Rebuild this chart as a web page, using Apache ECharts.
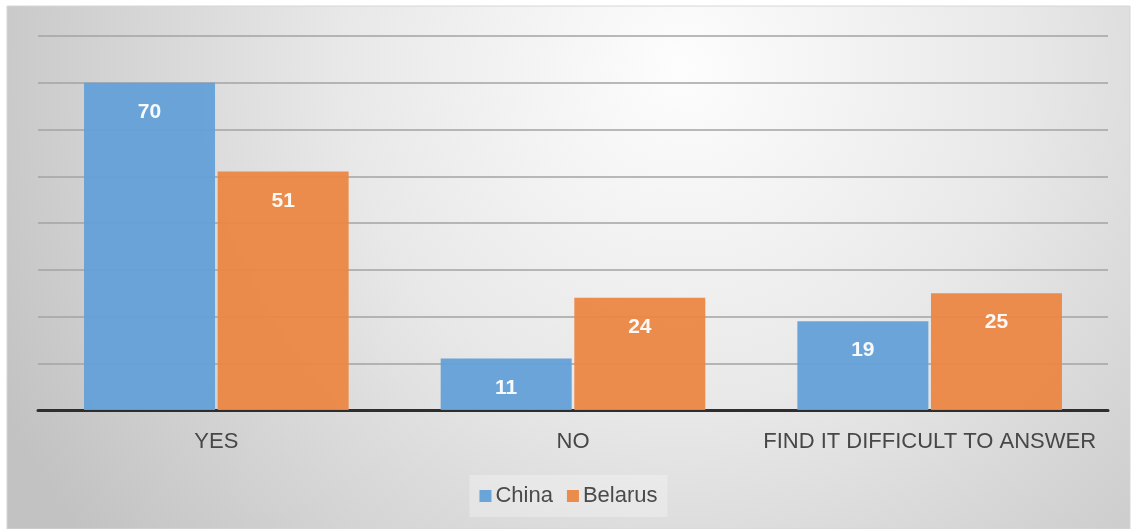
<!DOCTYPE html>
<html>
<head>
<meta charset="utf-8">
<style>
  html, body { margin: 0; padding: 0; background: #ffffff; }
  #chart { width: 1137px; height: 529px; }
</style>
<script src="https://cdn.jsdelivr.net/npm/echarts@6/dist/echarts.min.js"></script>
</head>
<body>
<div id="chart"></div>
<script>
// Survey answers, percent of respondents
const categories = ['YES', 'NO', 'FIND IT DIFFICULT TO ANSWER'];
const chinaValues = [70, 11, 19];
const belarusValues = [51, 24, 25];
const seriesNames = ['China', 'Belarus'];

const chart = echarts.init(document.getElementById('chart'));

const labelStyle = {
  show: true,
  position: 'insideTop',
  distance: 19,
  color: '#ffffff',
  fontWeight: 'bold',
  fontSize: 21,
  fontFamily: 'Liberation Sans, Arial, sans-serif'
};

chart.setOption({
  animation: false,
  textStyle: { fontFamily: 'Liberation Sans, Arial, sans-serif' },
  graphic: [{
    type: 'rect',
    z: -10,
    silent: true,
    shape: { x: 7, y: 6, width: 1123, height: 523 },
    style: {
      fill: new echarts.graphic.RadialGradient(0.6, 0.12, 1.45, [
        { offset: 0, color: '#fdfdfd' },
        { offset: 0.45, color: '#e8e8e8' },
        { offset: 1, color: '#c2c2c2' }
      ]),
      stroke: '#d6d6d6',
      lineWidth: 1
    }
  }],
  grid: { left: 38, right: 29, top: 36, bottom: 119, containLabel: false },
  legend: {
    data: seriesNames,
    top: 475,
    left: 'center',
    itemWidth: 12,
    itemHeight: 12,
    itemGap: 14,
    padding: [10, 10, 10, 10],
    backgroundColor: 'rgba(255,255,255,0.28)',
    icon: 'rect',
    textStyle: { fontSize: 22, color: '#4a4a4a', padding: [0, 0, 0, -1] }
  },
  xAxis: {
    type: 'category',
    data: categories,
    axisTick: { show: false },
    axisLine: { lineStyle: { color: '#2e2e2e', width: 3 } },
    axisLabel: {
      interval: 0,
      hideOverlap: false,
      fontSize: 22,
      color: '#474747',
      margin: 21
    }
  },
  yAxis: {
    type: 'value',
    min: 0,
    max: 80,
    interval: 10,
    axisLabel: { show: false },
    axisLine: { show: false },
    axisTick: { show: false },
    splitLine: { lineStyle: { color: '#a3a3a3', width: 1.5 } }
  },
  series: [
    {
      name: seriesNames[0],
      type: 'bar',
      data: chinaValues,
      barWidth: 131,
      barGap: '2%',
      itemStyle: { color: '#64a0d8', opacity: 0.95 },
      label: labelStyle
    },
    {
      name: seriesNames[1],
      type: 'bar',
      data: belarusValues,
      barWidth: 131,
      barGap: '2%',
      itemStyle: { color: '#ec8743', opacity: 0.95 },
      label: labelStyle
    }
  ]
});
</script>
</body>
</html>
